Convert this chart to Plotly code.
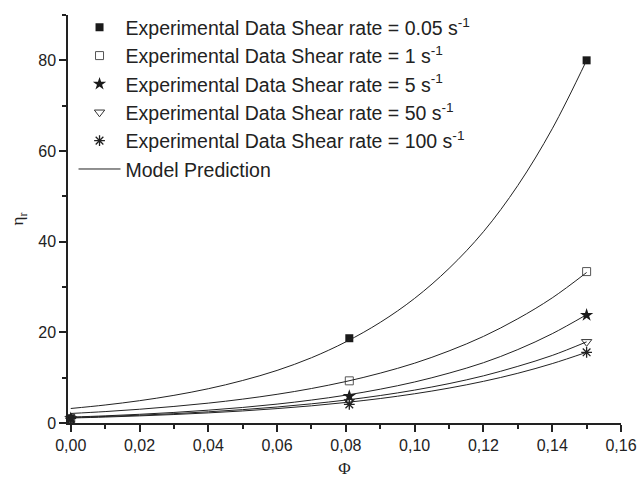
import plotly.graph_objects as go

# Experimental data
phi_exp = [0.0, 0.081, 0.15]
eta_005 = [1.0, 18.7, 80.0]
eta_1 = [1.0, 9.3, 33.4]
eta_5 = [1.0, 5.9, 23.8]
eta_50 = [1.0, 4.7, 17.9]
eta_100 = [1.0, 4.1, 15.6]

# Model prediction curves
phi_model = [0.00, 0.01, 0.02, 0.03, 0.04, 0.05, 0.06, 0.07, 0.08,
             0.09, 0.10, 0.11, 0.12, 0.13, 0.14, 0.15]
model_005 = [3.2, 3.97, 4.92, 6.10, 7.56, 9.38, 11.6, 14.4, 17.9,
             22.2, 27.5, 34.1, 42.2, 52.4, 64.9, 80.0]
model_1 = [2.1, 2.52, 3.03, 3.65, 4.38, 5.27, 6.33, 7.61, 9.15,
           11.0, 13.2, 15.9, 19.1, 23.0, 27.6, 33.2]
model_5 = [1.3, 1.58, 1.92, 2.33, 2.83, 3.43, 4.17, 5.06, 6.14,
           7.46, 9.05, 11.0, 13.3, 16.2, 19.7, 23.9]
model_50 = [1.2, 1.44, 1.72, 2.06, 2.47, 2.95, 3.53, 4.23, 5.06,
            6.06, 7.26, 8.69, 10.4, 12.5, 14.9, 17.9]
model_100 = [1.1, 1.31, 1.57, 1.87, 2.23, 2.66, 3.18, 3.79, 4.53,
             5.40, 6.45, 7.70, 9.19, 10.97, 13.1, 15.6]

labels = [
    "Experimental Data Shear rate = 0.05 s<sup>-1</sup>",
    "Experimental Data Shear rate = 1 s<sup>-1</sup>",
    "Experimental Data Shear rate = 5 s<sup>-1</sup>",
    "Experimental Data Shear rate = 50 s<sup>-1</sup>",
    "Experimental Data Shear rate = 100 s<sup>-1</sup>",
]

FONT = "Liberation Sans, Arial, sans-serif"
SERIF = "Liberation Serif, Times New Roman, serif"
TXT = "#222222"

fig = go.Figure()

marker_styles = [
    dict(symbol="square", size=8, color="#1a1a1a"),
    dict(symbol="square-open", size=8, color="#555555", line=dict(width=1)),
    dict(symbol="star", size=10, color="#1a1a1a"),
    dict(symbol="triangle-down-open", size=9, color="#333333", line=dict(width=1)),
    dict(symbol="asterisk-open", size=9, color="#222222", line=dict(width=1.3)),
]
series = [eta_005, eta_1, eta_5, eta_50, eta_100]

for lab, ys, ms in zip(labels, series, marker_styles):
    fig.add_trace(go.Scatter(x=phi_exp, y=ys, mode="markers", name=lab,
                             marker=ms, cliponaxis=False))

models = [model_005, model_1, model_5, model_50, model_100]
for i, m in enumerate(models):
    fig.add_trace(go.Scatter(x=phi_model, y=m, mode="lines",
                             line=dict(color="#222222", width=1, shape="spline"),
                             name="Model Prediction", showlegend=(i == 0)))

fig.update_layout(
    width=638, height=481,
    margin=dict(l=68, r=17, t=15, b=58, autoexpand=False),
    paper_bgcolor="white", plot_bgcolor="white",
    separators=",.",
    font=dict(family=FONT, size=16, color=TXT),
    legend=dict(x=0.01, y=1.017, xanchor="left", yanchor="top",
                bgcolor="rgba(0,0,0,0)", font=dict(size=19.5, color=TXT),
                tracegroupgap=0, itemwidth=42),
    showlegend=True,
)

fig.update_xaxes(
    range=[-0.0008, 0.16], tickmode="array",
    tickvals=[0, 0.02, 0.04, 0.06, 0.08, 0.10, 0.12, 0.14, 0.16],
    tickformat=".2f", ticks="outside", ticklen=7, tickwidth=1.5,
    tickcolor="#222", showline=True, linecolor="#222", linewidth=1.5,
    showgrid=False, zeroline=False, automargin=False,
    minor=dict(dtick=0.02, tick0=0.01, ticks="outside", ticklen=4,
               tickwidth=1.5, tickcolor="#222", showgrid=False),
    title=dict(text="Φ", font=dict(family=SERIF, size=17, color=TXT), standoff=9),
)
fig.update_yaxes(
    range=[0, 90], tickmode="array", tickvals=[0, 20, 40, 60, 80],
    ticks="outside", ticklen=7, tickwidth=1.5, tickcolor="#222",
    showline=True, linecolor="#222", linewidth=1.5,
    showgrid=False, zeroline=False, automargin=False,
    minor=dict(dtick=20, tick0=10, ticks="outside", ticklen=4,
               tickwidth=1.5, tickcolor="#222", showgrid=False),
    title=dict(text="η<sub>r</sub>", font=dict(family=SERIF, size=17, color=TXT), standoff=10),
)

fig.write_html("out.html")
